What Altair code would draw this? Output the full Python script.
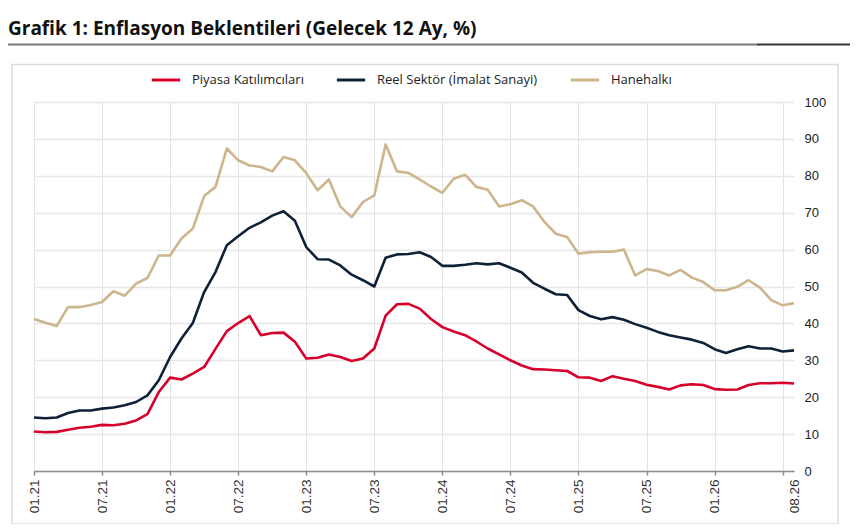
import altair as alt
import pandas as pd

# Months 01.21 .. 08.26
months = []
for yy in range(21, 27):
    for mm in range(1, 13):
        months.append(f"{mm:02d}.{yy}")
months = months[:68]

piyasa = [10.7, 10.5, 10.6, 11.2, 11.7, 12.0, 12.5, 12.4, 12.8, 13.7,
          15.4, 21.4, 25.3, 24.8, 26.4, 28.2, 33.1, 37.9, 40.1, 42.0,
          36.8, 37.4, 37.5, 35.0, 30.5, 30.7, 31.6, 30.9, 29.8, 30.5,
          33.2, 42.1, 45.2, 45.3, 44.0, 41.2, 39.0, 37.8, 36.8, 35.1,
          33.2, 31.6, 30.0, 28.6, 27.6, 27.5, 27.3, 27.1, 25.4, 25.3,
          24.4, 25.7, 25.0, 24.4, 23.4, 22.8, 22.1, 23.2, 23.5, 23.3,
          22.2, 22.0, 22.1, 23.3, 23.8, 23.8, 23.9, 23.7]

reel = [14.5, 14.3, 14.5, 15.7, 16.4, 16.4, 16.9, 17.2, 17.8, 18.7,
        20.5, 24.6, 30.9, 35.9, 40.1, 48.5, 53.9, 61.2, 63.6, 65.9,
        67.4, 69.2, 70.4, 67.8, 60.7, 57.4, 57.3, 55.7, 53.2, 51.7,
        50.0, 57.8, 58.7, 58.8, 59.3, 58.0, 55.6, 55.6, 55.9, 56.3,
        56.0, 56.3, 55.1, 53.8, 51.0, 49.4, 47.9, 47.7, 43.6, 42.0,
        41.1, 41.7, 41.0, 39.8, 38.8, 37.7, 36.8, 36.2, 35.6, 34.7,
        33.0, 32.0, 33.0, 33.8, 33.2, 33.2, 32.4, 32.7]

hane = [41.2, 40.2, 39.3, 44.4, 44.4, 45.0, 45.8, 48.7, 47.5, 50.8,
        52.3, 58.4, 58.4, 63.0, 65.7, 74.5, 77.0, 87.4, 84.2, 82.8,
        82.4, 81.2, 85.1, 84.2, 80.7, 76.1, 79.0, 71.7, 68.8, 72.9,
        74.7, 88.5, 81.2, 80.8, 79.0, 77.1, 75.4, 79.2, 80.3, 77.0,
        76.2, 71.7, 72.3, 73.4, 71.7, 67.5, 64.3, 63.4, 58.9, 59.3,
        59.4, 59.4, 60.0, 53.0, 54.7, 54.2, 53.0, 54.5, 52.4, 51.2,
        49.0, 49.0, 49.9, 51.7, 49.7, 46.3, 44.9, 45.5]

series_names = ["Piyasa Katılımcıları", "Reel Sektör (İmalat Sanayi)", "Hanehalkı"]
series_colors = ["#d6002a", "#0f2137", "#cdb58c"]

tick_values = ["01.21", "07.21", "01.22", "07.22", "01.23", "07.23", "01.24",
               "07.24", "01.25", "07.25", "01.26", "07.26", "08.26"]
y_ticks = [0, 10, 20, 30, 40, 50, 60, 70, 80, 90, 100]

title_text = "Grafik 1: Enflasyon Beklentileri (Gelecek 12 Ay, %)"

rows = []
for name, vals in zip(series_names, [piyasa, reel, hane]):
    for m, v in zip(months, vals):
        rows.append({"month": m, "series": name, "value": v})
df = pd.DataFrame(rows)

lines = alt.Chart(df).mark_line(strokeWidth=2.6, strokeJoin="round").encode(
    x=alt.X("month:O", sort=months,
            scale=alt.Scale(type="point", padding=0),
            axis=alt.Axis(values=tick_values, title=None,
                          labelExpr="datum.value == '07.26' ? '' : datum.label",
                          labelAngle=270, labelAlign="right", labelBaseline="middle",
                          labelPadding=4, labelFont="Liberation Sans", labelFontSize=13.5,
                          labelColor="#333333",
                          domainColor="#8c8c8c", domainWidth=1.5,
                          tickColor="#8c8c8c", tickWidth=1.5, tickSize=4,
                          tickOpacity={"condition": {"test": "datum.value == '08.26'", "value": 0}, "value": 1},
                          grid=True, gridColor="#e3e3e3", gridWidth=1,
                          gridOpacity={"condition": {"test": "datum.value == '08.26'", "value": 0}, "value": 1})),
    y=alt.Y("value:Q", scale=alt.Scale(domain=[0, 100], nice=False),
            axis=alt.Axis(orient="right", values=y_ticks, title=None, domain=False,
                          ticks=False, labelPadding=10, labelFont="Liberation Sans",
                          labelFontSize=13, labelColor="#222222",
                          grid=True, gridColor="#e6e6e6", gridWidth=1.5)),
    color=alt.Color("series:N", sort=series_names,
                    scale=alt.Scale(domain=series_names, range=series_colors),
                    legend=alt.Legend(title=None, orient="none", direction="horizontal",
                                      legendX=116, legendY=-38,
                                      symbolType="stroke", symbolStrokeWidth=3,
                                      symbolSize=800, labelOffset=10, columnPadding=26,
                                      labelFont="Open Sans", labelFontSize=13,
                                      labelLimit=400, labelColor="#222222")),
)

one = pd.DataFrame({"k": [0]})

box = alt.Chart(one).mark_rect(fill="transparent", stroke="#dcdcdc", strokeWidth=1.5).encode(
    x=alt.value(-22), x2=alt.value(804), y=alt.value(-37.5), y2=alt.value(422)
)

underline1 = alt.Chart(one).mark_rule(color="#7a7a7a", strokeWidth=2).encode(
    x=alt.value(-26), x2=alt.value(723), y=alt.value(-57.5)
)
underline2 = alt.Chart(one).mark_rule(color="#333333", strokeWidth=2).encode(
    x=alt.value(723), x2=alt.value(816), y=alt.value(-57.5)
)

chart = alt.layer(box, underline1, underline2, lines).properties(
    width=760, height=369,
    autosize=alt.AutoSizeParams(type="none"),
    padding={"left": 26, "top": 94, "right": 63, "bottom": 53},
    title=alt.TitleParams(title_text, anchor="start", frame="group", dx=-26, offset=5,
                          font="Open Sans", fontSize=19, fontWeight="bold",
                          color="#111111"),
).configure_view(stroke="transparent")

chart.save("out.html", embed_options={"renderer": "svg", "actions": False})
